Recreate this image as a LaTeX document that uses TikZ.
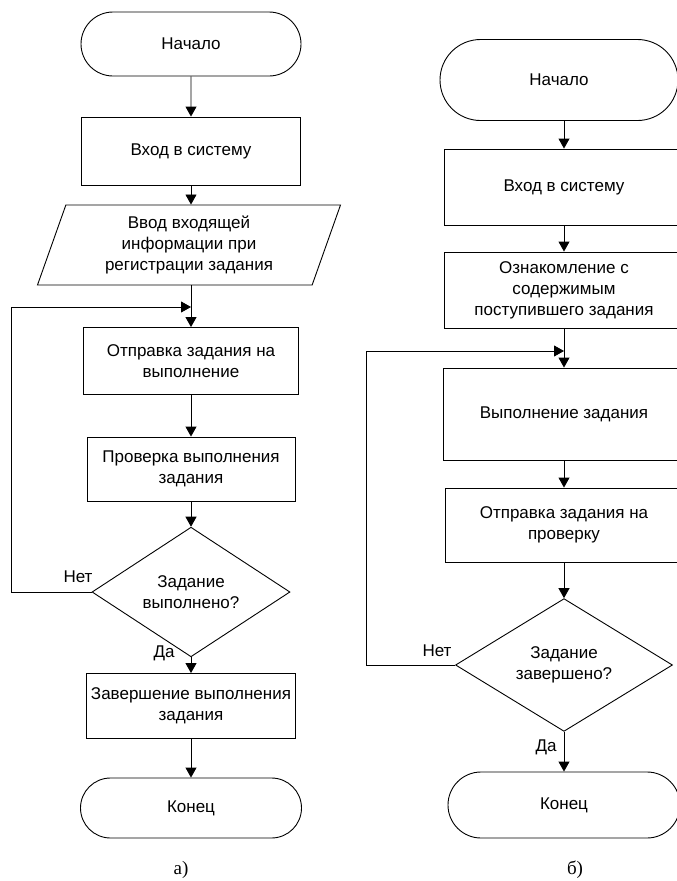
\documentclass[tikz,border=0pt]{standalone}
\usepackage{fontspec}
\setmainfont{Liberation Sans}
\newfontfamily\captfont{Liberation Serif}
\usetikzlibrary{shapes.geometric, shapes.misc, arrows.meta}

\begin{document}
\begin{tikzpicture}[x=1pt, y=1pt, line width=0.9pt,
  font=\fontsize{17}{21}\selectfont,
  block/.style={draw, rectangle, align=center, inner sep=0pt},
  term/.style={draw, rounded rectangle, inner sep=0pt},
  io/.style={draw, trapezium, trapezium left angle=64, trapezium right angle=116,
    trapezium stretches body, align=center, inner sep=0pt},
  cond/.style={draw, diamond, align=center, inner sep=0pt},
  flow/.style={-{Triangle[length=10pt, width=11pt]}}]
  \useasboundingbox (0,0) rectangle (677,-881);
  \clip (0,0) rectangle (677,-881);

  % а)
  \node[term, minimum width=220, minimum height=64] (startA) at (191,-44) {Начало};
  \node[block, minimum width=219, minimum height=68] (loginA) at (191,-151) {Вход в систему};
  \node[io, minimum width=303, minimum height=80] (inputA) at (189,-245)
    {Ввод входящей\\информации при\\регистрации задания};
  \coordinate (loopA) at (191,-307);
  \node[block, minimum width=215, minimum height=67] (sendA) at (191,-361)
    {Отправка задания на\\выполнение};
  \node[block, minimum width=208, minimum height=64] (checkA) at (191,-469)
    {Проверка выполнения\\задания};
  \node[cond, minimum width=198, minimum height=117] (decA) at (191,-592)
    {Задание\\выполнено?};
  \node[block, minimum width=209, minimum height=65] (finA) at (191,-706)
    {Завершение выполнения\\задания};
  \node[term, minimum width=221, minimum height=60] (endA) at (191,-808) {Конец};
  \node (noA) at (78,-577) {Нет};
  \node (yesA) at (164,-653) {Да};
  \node[font=\captfont\fontsize{19}{21}\selectfont] (capA) at (181,-870) {а)};

  \draw[flow] (startA) -- (loginA);
  \draw[flow] (loginA) -- (loginA |- inputA.north);
  \draw[flow] (loginA |- inputA.south) -- (sendA);
  \draw[flow] (sendA) -- (checkA);
  \draw[flow] (checkA) -- (decA);
  \draw[flow] (decA) -- (finA);
  \draw[flow] (finA) -- (endA);
  \draw[flow] (decA.west) -- ++(-80,0) |- (loopA);

  % б)
  \node[term, minimum width=238, minimum height=81] (startB) at (559,-80) {Начало};
  \node[block, minimum width=240, minimum height=76] (loginB) at (564,-187) {Вход в систему};
  \node[block, minimum width=240, minimum height=76] (readB) at (564,-290)
    {Ознакомление с\\содержимым\\поступившего задания};
  \coordinate (loopB) at (564,-351);
  \node[block, minimum width=242, minimum height=92] (execB) at (564,-414)
    {Выполнение задания};
  \node[block, minimum width=238, minimum height=74] (sendB) at (564,-525)
    {Отправка задания на\\проверку};
  \node[cond, minimum width=217, minimum height=130] (decB) at (564,-665)
    {Задание\\завершено?};
  \node[term, minimum width=232, minimum height=66] (endB) at (564,-805) {Конец};
  \node (noB) at (437,-651) {Нет};
  \node (yesB) at (546,-747) {Да};
  \node[font=\captfont\fontsize{19}{21}\selectfont] (capB) at (575,-870) {б)};

  \draw[flow] (loginB |- startB.south) -- (loginB);
  \draw[flow] (loginB) -- (readB);
  \draw[flow] (readB) -- (execB);
  \draw[flow] (execB) -- (sendB);
  \draw[flow] (sendB) -- (decB);
  \draw[flow] (decB) -- (endB);
  \draw[flow] (decB.west) -- ++(-89,0) |- (loopB);
\end{tikzpicture}
\end{document}
